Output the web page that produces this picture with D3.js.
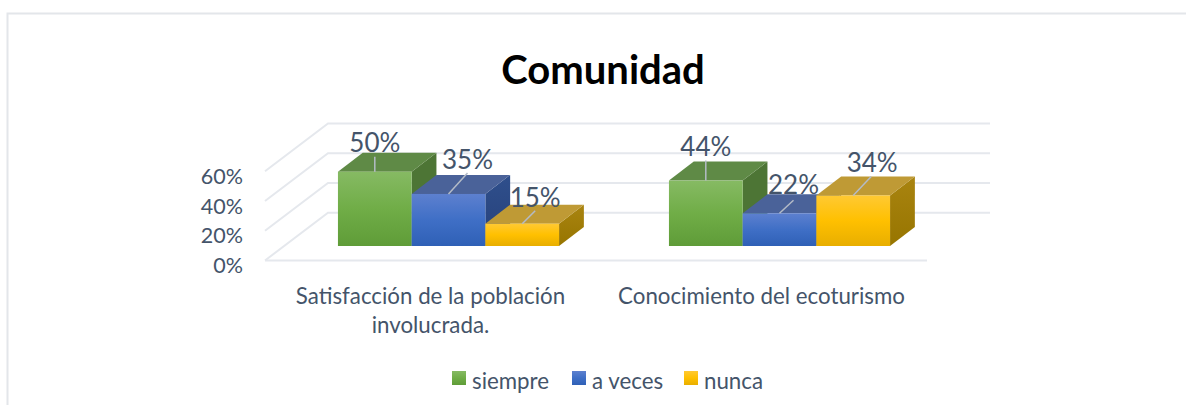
<!DOCTYPE html>
<html><head><meta charset="utf-8">
<script src="https://cdn.jsdelivr.net/npm/d3@7"></script>
<style>html,body{margin:0;padding:0;background:#fff}svg{display:block}text{font-family:Lato,"Open Sans",sans-serif}</style>
</head><body><div id="c"></div>
<script>
const titleText = "Comunidad";
const categories = [["Satisfacción de la población","involucrada."],["Conocimiento del ecoturismo"]];
const seriesNames = ["siempre","a veces","nunca"];
const siempre = [50,44];
const aVeces = [35,22];
const nunca = [15,34];
const tickValues = [0,20,40,60];

const seriesValues = [siempre,aVeces,nunca];
const palette = [
 {top:"#5f8a46",side:"#4d7535",sideB:"#4d7535",g:["#86ba63","#70ad47","#5f9c38"]},
 {top:"#4a6299",side:"#2f4f8c",sideB:"#27417a",g:["#5d80cf","#3f6fc6","#2f60b6"]},
 {top:"#bf9a35",side:"#a98410",sideB:"#977500",g:["#ffc933","#ffc000","#e8ae00"]}
];
// label offset from the bar's front-top centre: dx, dy of text centre; leader start
const labelOffsets = [[[0,-29],[19,-34],[13,-26]],[[0,-34],[14,-28],[19,-33]]];
const leaderEnd = [[[0,-15],[19,-21],[13,-13]],[[0,-20],[14,-13],[18,-19]]];

const W=1186,H=405;
const svg=d3.select("#c").append("svg").attr("width",W).attr("height",H);
const defs=svg.append("defs");
palette.forEach((p,i)=>{
  const g=defs.append("linearGradient").attr("id","f"+i).attr("x1",0).attr("x2",0).attr("y1",0).attr("y2",1);
  p.g.forEach((c,j)=>g.append("stop").attr("offset",j/2).attr("stop-color",c));
  const s=defs.append("linearGradient").attr("id","s"+i).attr("x1",0).attr("x2",0).attr("y1",0).attr("y2",1);
  s.append("stop").attr("offset",0).attr("stop-color",p.side);
  s.append("stop").attr("offset",1).attr("stop-color",p.sideB);
});

// frame
const frameC="#e3e6ea";
svg.append("path").attr("d",`M7.5,405V13.5H${W}`).attr("fill","none").attr("stroke",frameC).attr("stroke-width",2);

// scales
const axisLeft=265, axisRight=927, floorFront=260.5, wallDX=63, wallDY=47.8;
const h=d3.scaleLinear().domain([0,60]).range([0,89.2]);
const x0=d3.scaleBand().domain(d3.range(categories.length)).range([axisLeft,axisRight]);
const barW=73.7;
const groupOffset=18;
const x1=d3.scaleBand().domain(d3.range(seriesNames.length)).range([0,barW*3]);
const barBase=246, bdx=24.8, bdy=19;
const txt="#44546a", gridC="#e5e8ed", leader="#b4bbc7";

// grid
const grid=svg.append("g").attr("fill","none").attr("stroke",gridC).attr("stroke-width",2);
tickValues.forEach(v=>{
  const yf=floorFront-h(v), yb=yf-wallDY;
  grid.append("path").attr("d",`M${axisLeft},${yf}L${axisLeft+wallDX},${yb}H${axisRight+wallDX}`);
});
grid.append("path").attr("d",`M${axisLeft},${floorFront}H${axisRight}`);

// y tick labels
svg.append("g").selectAll("text").data(tickValues).join("text")
  .attr("x",243).attr("y",v=>floorFront-h(v)+5).attr("dy","0.35em")
  .attr("text-anchor","end").attr("font-size",21.5).attr("fill",txt)
  .text(v=>v+"%");

// bars
const bars=svg.append("g");
categories.forEach((c,ci)=>{
  const gx=x0(ci)+(x0.bandwidth()-barW*3)/2+groupOffset;
  seriesValues.forEach((vals,si)=>{
    const v=vals[ci], X=gx+x1(si), w=x1.bandwidth(), H2=h(v), T=barBase-H2;
    bars.append("path").attr("fill",`url(#s${si})`)
      .attr("d",`M${X+w},${T}L${X+w+bdx},${T-bdy}V${barBase-bdy}L${X+w},${barBase}Z`);
    bars.append("path").attr("fill",palette[si].top)
      .attr("d",`M${X},${T}L${X+bdx},${T-bdy}H${X+w+bdx}L${X+w},${T}Z`);
    bars.append("rect").attr("x",X).attr("y",T).attr("width",w).attr("height",H2).attr("fill",`url(#f${si})`);
  });
});
// labels drawn last
const lab=svg.append("g");
categories.forEach((c,ci)=>{
  const gx=x0(ci)+(x0.bandwidth()-barW*3)/2+groupOffset;
  seriesValues.forEach((vals,si)=>{
    const v=vals[ci], cx=gx+x1(si)+x1.bandwidth()/2, T=barBase-h(v);
    const lo=labelOffsets[ci][si], le=leaderEnd[ci][si];
    lab.append("line").attr("x1",cx).attr("y1",T).attr("x2",cx+le[0]).attr("y2",T+le[1])
      .attr("stroke",leader).attr("stroke-width",1.5);
    lab.append("text").attr("x",cx+lo[0]).attr("y",T+lo[1]).attr("dy","0.35em")
      .attr("text-anchor","middle").attr("font-size",26).attr("fill",txt).text(v+"%");
  });
});

// category labels
categories.forEach((lines,ci)=>{
  const t=svg.append("text").attr("text-anchor","middle").attr("font-size",22.3).attr("fill",txt);
  lines.forEach((l,i)=>t.append("tspan").attr("x",x0(ci)+x0.bandwidth()/2).attr("y",304+i*29).text(l));
});

// title
svg.append("text").attr("x",603).attr("y",84).attr("text-anchor","middle")
  .attr("font-size",40).attr("font-weight",700).attr("fill","#000").text(titleText);

// legend
const legendX=[452,572,684];
const lg=svg.append("g");
seriesNames.forEach((n,i)=>{
  lg.append("rect").attr("x",legendX[i]).attr("y",371).attr("width",14).attr("height",14).attr("fill",`url(#f${i})`);
  lg.append("text").attr("x",legendX[i]+20).attr("y",389).attr("font-size",22.3).attr("fill",txt).text(n);
});
</script></body></html>
